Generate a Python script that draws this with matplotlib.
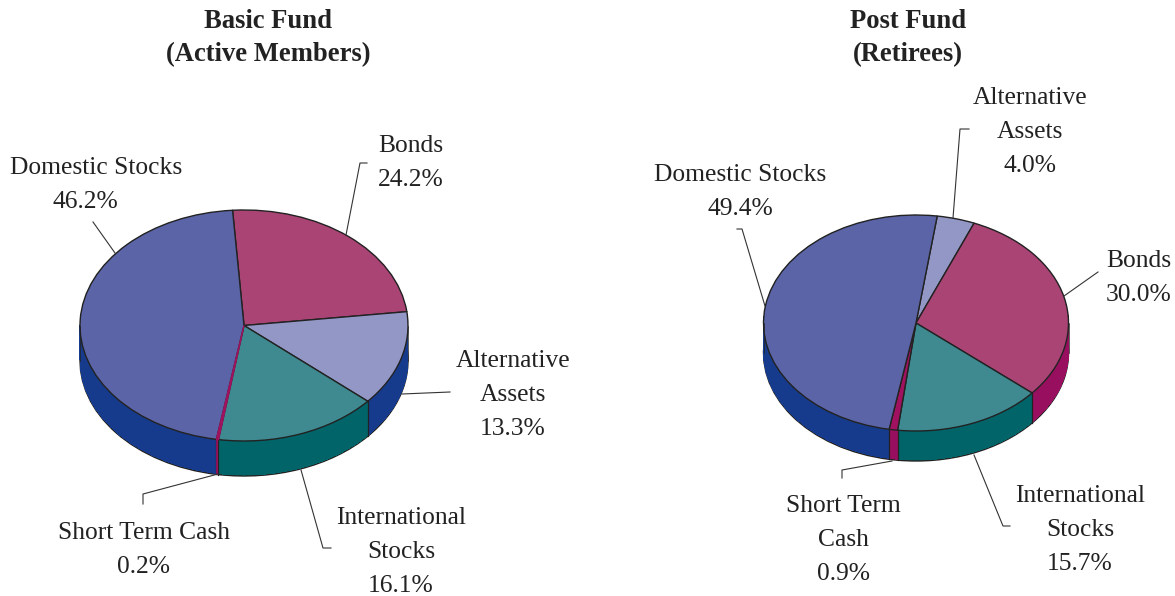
import numpy as np
import matplotlib
matplotlib.use("Agg")
import matplotlib.pyplot as plt

plt.rcParams['font.family'] = ['Liberation Serif', 'DejaVu Serif']

W, H = 1175, 596

# data, clockwise from the start angle
basic_names = ["Bonds", "Alternative\nAssets", "International\nStocks", "Short Term Cash", "Domestic Stocks"]
basic_values = [24.2, 13.3, 16.1, 0.2, 46.2]
post_names = ["Alternative\nAssets", "Bonds", "International\nStocks", "Short Term\nCash", "Domestic Stocks"]
post_values = [4.0, 30.0, 15.7, 0.9, 49.4]

top_colors = {"Bonds": "#A94475", "Alternative\nAssets": "#9397C6", "International\nStocks": "#3F8A90",
              "Short": "#A0125F", "Domestic Stocks": "#5A64A6"}
side_colors = {"Bonds": "#990F60", "Alternative\nAssets": "#173B8C", "International\nStocks": "#006469",
               "Short": "#990F60", "Domestic Stocks": "#173B8C"}
EDGE = "#222222"

# label centre x, first line y (pixels), percent line x, in the order of the names above
basic_label_pos = [(411, 146, 411), (513, 361, 513), (401, 518, 401), (144, 533, 144), (96, 168, 85)]
post_label_pos = [(1030, 98, 1030), (1139, 261, 1139), (1080, 496, 1080), (843, 506, 843), (740, 175, 740)]

basic_leaders = [[(367, 163), (360, 163), (346, 235)],
                 [(450, 392), (402, 394)],
                 [(301, 470), (323, 548), (331, 548)],
                 [(218, 474), (143, 494), (143, 504)],
                 [(93, 222), (115, 253)]]
post_leaders = [[(969, 129), (960, 129), (953, 218)],
                [(1064, 296), (1098, 272)],
                [(974, 455), (1003, 526), (1010, 526)],
                [(892, 461), (842, 470), (842, 478)],
                [(737, 229), (742, 229), (765, 306)]]

fig = plt.figure(figsize=(W / 100, H / 100), dpi=100, facecolor="white")


def key(name):
    return "Short" if name.startswith("Short") else name


def pie3d(names, values, start, cx, cy, rx, ry, depth):
    ax = fig.add_axes([(cx - rx) / W, 1 - (cy + ry) / H, 2 * rx / W, 2 * ry / H])
    tops = [top_colors[key(n)] for n in names]
    sides = [side_colors[key(n)] for n in names]
    d = depth / ry
    # bottom disc with outline, then the wall built up from copies, then the top
    ax.pie(values, colors=sides, startangle=start, counterclock=False, center=(0, -d),
           wedgeprops=dict(edgecolor=EDGE, linewidth=1.0, clip_on=False))
    for k in np.arange(depth - 1, 0, -1):
        ax.pie(values, colors=sides, startangle=start, counterclock=False, center=(0, -k / ry),
               wedgeprops=dict(edgecolor="none", linewidth=0, clip_on=False, antialiased=False))
    angles = start - np.cumsum(values) * 3.6
    for a in list(angles):
        s = np.sin(np.radians(a))
        if s <= 0:
            c = np.cos(np.radians(a))
            ax.plot([c, c], [s, s - d], color=EDGE, lw=0.9, clip_on=False)
    for a in [0, 180]:
        c = np.cos(np.radians(a))
        ax.plot([c, c], [0, -d], color=EDGE, lw=0.5, clip_on=False)
    wedges, _ = ax.pie(values, colors=tops, startangle=start, counterclock=False,
                       wedgeprops=dict(edgecolor=EDGE, linewidth=1.0, clip_on=False))
    # a very thin slice would vanish under its own outline
    for w, v, a, col in zip(wedges, values, angles, sides):
        if v < 0.5:
            w.set_edgecolor(w.get_facecolor())
            w.set_zorder(3)
            mid = a + v * 1.8
            c, s = np.cos(np.radians(mid)), np.sin(np.radians(mid))
            ax.plot([c, c], [s, s - d], color=col, lw=1.2, clip_on=False, zorder=4)
    ax.set_aspect("auto")
    ax.set_xlim(-1, 1)
    ax.set_ylim(-1, 1)
    ax.axis("off")


pie3d(basic_names, basic_values, 94, 244, 325.5, 164, 115.5, 35)
pie3d(post_names, post_values, 82, 916, 323, 152.5, 108, 30)

# overlay in pixel coordinates for the text and leader lines
ov = fig.add_axes([0, 0, 1, 1], facecolor="none")
ov.set_xlim(0, W)
ov.set_ylim(H, 0)
ov.axis("off")


def put_lines(x, y, lines, gap=34, **kw):
    for i, line in enumerate(lines):
        ov.text(x, y + i * gap, line, ha="center", va="center", **kw)


for names, values, pos, leaders in [(basic_names, basic_values, basic_label_pos, basic_leaders),
                                    (post_names, post_values, post_label_pos, post_leaders)]:
    for name, v, (x, y, px), pts in zip(names, values, pos, leaders):
        lines = name.split("\n")
        put_lines(x, y, lines, fontsize=18.4, color="#222222")
        put_lines(px, y + len(lines) * 34, ["%.1f%%" % v], fontsize=18.4, color="#222222")
        xs, ys = zip(*pts)
        ov.plot(xs, ys, color="#333333", lw=0.8)

put_lines(268, 22, ["Basic Fund", "(Active Members)"], gap=33, fontsize=19.2, fontweight="bold", color="#222222")
put_lines(908, 22, ["Post Fund", "(Retirees)"], gap=33, fontsize=19.2, fontweight="bold", color="#222222")

fig.savefig("out.png", dpi=100)
